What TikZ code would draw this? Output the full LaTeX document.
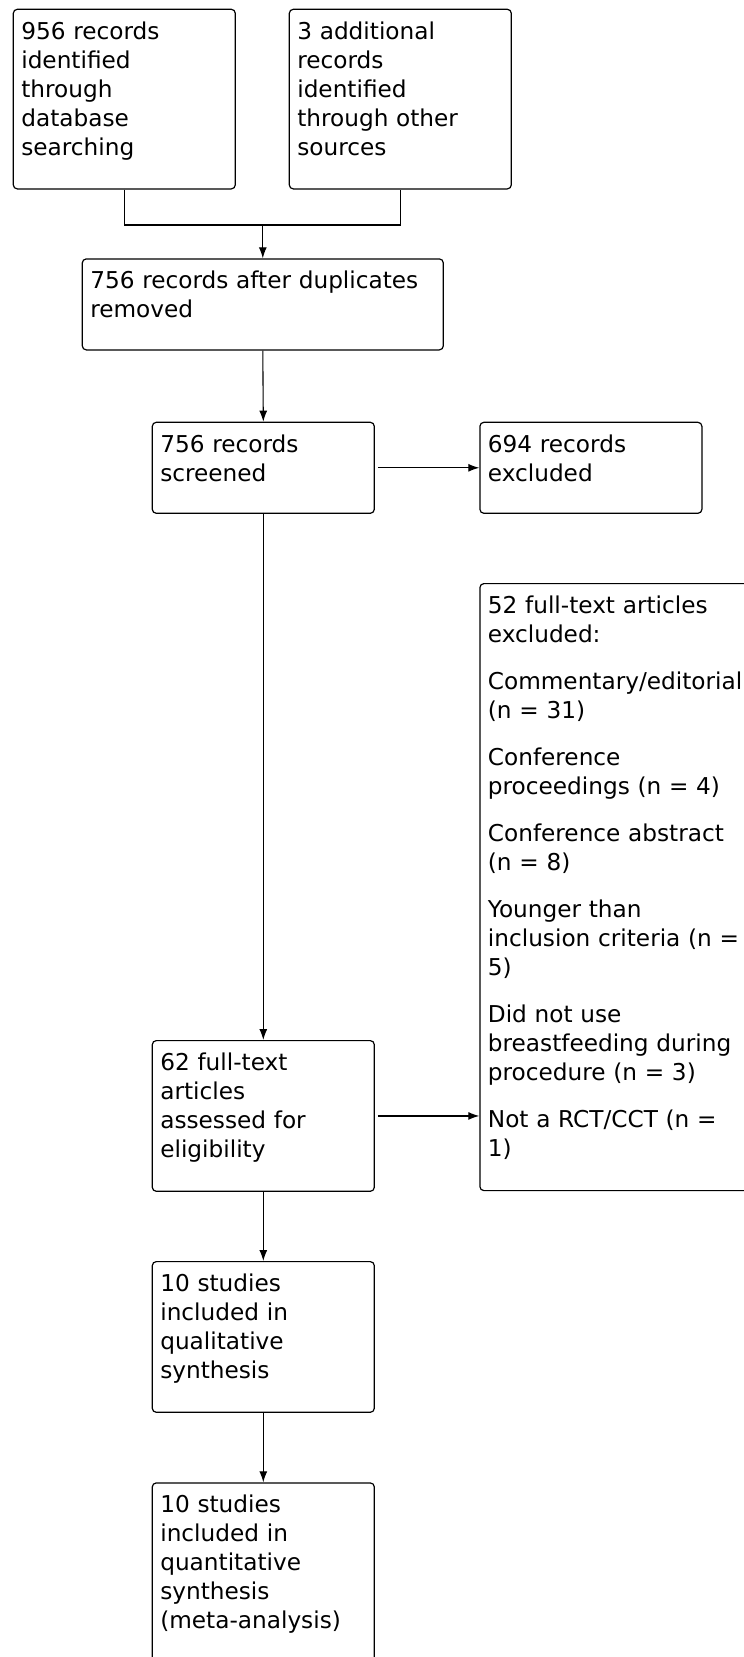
\documentclass[tikz,border=0pt]{standalone}
\usepackage{fontspec}
\setmainfont{DejaVu Sans}
\usetikzlibrary{arrows.meta,calc}

\tikzset{
  stage/.style={draw, line width=1.2pt, rounded corners=4pt, anchor=north west,
    inner xsep=8pt, inner ysep=0pt, text width=206pt, align=left,
    text height=30pt, font=\fontsize{23.2}{29}\selectfont},
  flow/.style={line width=1.1pt, -{Latex[length=11pt,width=8pt]}},
}

\begin{document}
\begin{tikzpicture}[x=1pt,y=-1pt]
\clip (0,0) rectangle (744,1657);

\node[stage,text depth=149.6pt] (db) at (12.7,8.7) {956 records\\identified\\through\\database\\searching};
\node[stage,text depth=149.6pt] (other) at (288.7,8.7) {3 additional\\records\\identified\\through other\\sources};
\node[stage,text width=345pt,text depth=61pt] (dup) at (81.7,258.3) {756 records after duplicates\\removed};
\node[stage,text depth=61pt] (screen) at (151.7,421.7) {756 records\\screened};
\node[stage,text depth=61pt] (excl) at (479.3,421.7) {694 records\\excluded};
\node[stage,text width=270pt,text height=29.5pt,text depth=577.5pt] (ftexcl) at (479.3,583) {52 full-text articles\\excluded:\\[18pt]
Commentary/editorial\\(n = 31)\\[18pt]
Conference\\proceedings (n = 4)\\[18pt]
Conference abstract\\(n = 8)\\[18pt]
Younger than\\inclusion criteria (n =\\5)\\[18pt]
Did not use\\breastfeeding during\\procedure (n = 3)\\[18pt]
Not a RCT/CCT (n =\\1)};
\node[stage,text depth=120.7pt] (elig) at (151.7,1040) {62 full-text\\articles\\assessed for\\eligibility};
\node[stage,text depth=120.7pt] (qual) at (151.7,1261) {10 studies\\included in\\qualitative\\synthesis};
\node[stage,text depth=150pt] (quant) at (151.7,1482.3) {10 studies\\included in\\quantitative\\synthesis\\(meta-analysis)};

\coordinate (join) at ($(dup.north)+(0,-33.3)$);
\draw[line width=1.1pt] (db.south) |- (join) -| (other.south);
\draw[flow] (join) -- (dup.north);
\draw[flow] (dup.south) -- (screen.north);
\draw[flow,shorten <=3pt] (screen.east) -- (excl.west);
\draw[flow] (screen.south) -- (elig.north);
\draw[flow,shorten <=3pt] (elig.east) -- (elig.east -| ftexcl.west);
\draw[flow] (elig.south) -- (qual.north);
\draw[flow] (qual.south) -- (quant.north);
\end{tikzpicture}
\end{document}
